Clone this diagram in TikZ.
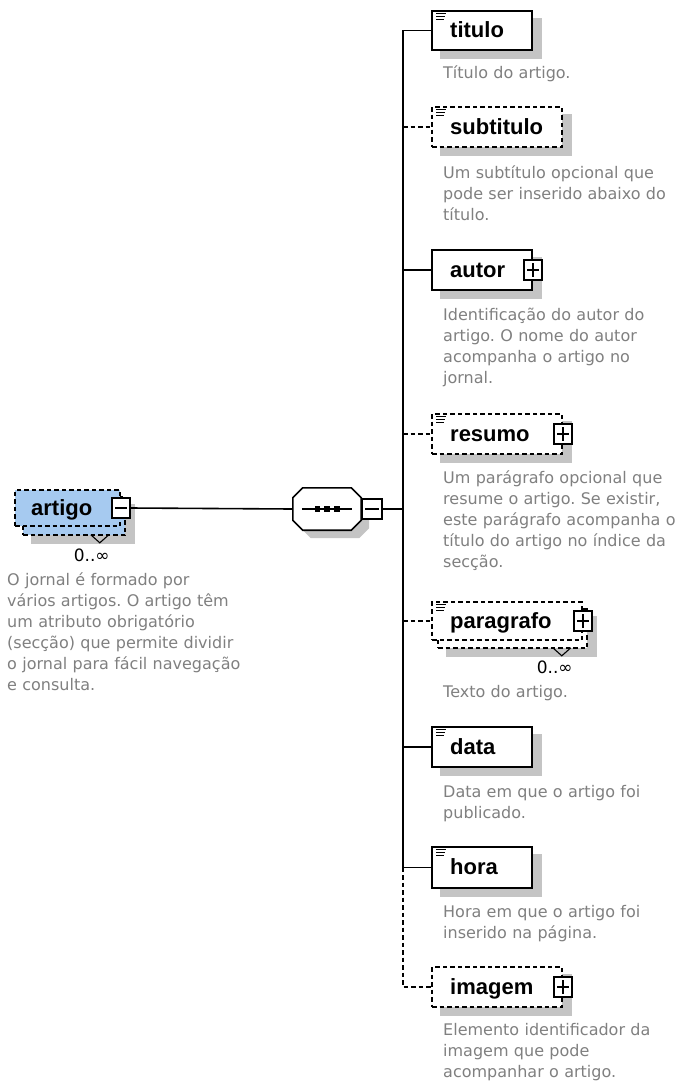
\documentclass[tikz,border=0pt]{standalone}
\usepackage{fontspec}
\usetikzlibrary{calc}
\newfontfamily\descfont{DejaVu Sans}
\newfontfamily\namefont{Liberation Sans}
\definecolor{descgray}{RGB}{128,128,128}
\definecolor{shadowgray}{RGB}{196,196,196}
\definecolor{artblue}{RGB}{166,202,240}
\pgfdeclarelayer{bg}
\pgfsetlayers{bg,main}
\frenchspacing
\tikzset{
  box/.style={draw=black, line width=1.6pt, fill=white, rectangle, inner sep=0pt},
  optbox/.style={box, dash pattern=on 4.5pt off 3pt},
  namelabel/.style={anchor=base west, inner sep=0pt, font={\namefont\bfseries\fontsize{22}{26}\selectfont}},
  desc/.style={anchor=base west, inner sep=0pt, text width=250pt, align=left, text=descgray, font={\descfont\frenchspacing\fontsize{16}{21}\selectfont}},
  mult/.style={anchor=base east, inner sep=0pt, font={\descfont\fontsize{17}{20}\selectfont}},
  conn/.style={draw=black, line width=1.6pt},
  optconn/.style={conn, dash pattern=on 4.5pt off 3pt},
  pm/.style={draw=black, line width=1.5pt, fill=white, rectangle, inner sep=0pt, minimum width=18pt, minimum height=20pt},
  sq/.style={fill=black, rectangle, inner sep=0pt, minimum size=5.5pt},
}
\newcommand\pmMinus[1]{\draw[line width=1.5pt] ($(#1.west)+(4,0)$) -- ($(#1.east)+(-4,0)$);}
\newcommand\pmPlus[1]{\pmMinus{#1}\draw[line width=1.5pt] ($(#1.north)+(0,4)$) -- ($(#1.south)+(0,-4)$);}
\newcommand\docicon[1]{\draw[line width=1.1pt] ($(#1.north west)+(5,3.5)$) -- ++(10,0) ($(#1.north west)+(5,6.5)$) -- ++(9,0) ($(#1.north west)+(5,9.5)$) -- ++(8,0);}
\newcommand\chev[1]{\draw[line width=1.1pt] ($(#1.south east)+(-35,-1)$) -- ++(9,8) -- ++(9,-8);}
\newcommand\octpath[2]{($(seq.north west)+(10+#1,#2)$) -- ($(seq.north east)+(-10+#1,#2)$) -- ($(seq.north east)+(#1,10+#2)$) -- ($(seq.south east)+(#1,-10+#2)$) -- ($(seq.south east)+(-10+#1,#2)$) -- ($(seq.south west)+(10+#1,#2)$) -- ($(seq.south west)+(#1,-10+#2)$) -- ($(seq.north west)+(#1,10+#2)$) -- cycle}
\begin{document}
\begin{tikzpicture}[x=1pt,y=-1pt]
\begin{pgfonlayer}{bg}
\fill[white] (0,0) rectangle (676,1082);
\end{pgfonlayer}
\useasboundingbox (0,0) rectangle (676,1082);
\coordinate (trunk) at (403,0);

% root element artigo (multiple, optional)
\node[optbox, fill=artblue, minimum width=102, minimum height=38] (artB) at (74,516) {};
\node[optbox, fill=artblue, minimum width=105, minimum height=36] (artF) at (67.5,508) {};
\node[namelabel] (artName) at (31,515) {artigo};
\node[pm] (artPM) at (artF.east) {};
\pmMinus{artPM}
\chev{artB}
\node[mult] (artMult) at ($(artB.south east)+(-16,26)$) {0..∞};
\node[desc, text width=270pt] (artDesc) at (7,585.5) {O jornal é formado por\\vários artigos. O artigo têm\\um atributo obrigatório\\(secção) que permite dividir\\o jornal para fácil navegação\\e consulta.};

% sequence compositor
\node[rectangle, inner sep=0pt, minimum width=68, minimum height=42] (seq) at (327,509) {};
\draw[conn, fill=white] \octpath{0}{0};
\draw[conn] ($(seq.west)+(9,0)$) -- ($(seq.east)+(-9,0)$);
\node[sq] (sq1) at ($(seq.center)+(-9.5,0)$) {};
\node[sq] (sq2) at (seq.center) {};
\node[sq] (sq3) at ($(seq.center)+(10,0)$) {};
\node[pm, minimum width=20, anchor=west] (seqPM) at (seq.east) {};
\pmMinus{seqPM}

% children
\node[box, minimum width=100, minimum height=39] (titulo) at (482,30.5) {};
\docicon{titulo}
\node[namelabel] (tituloName) at (450,37.5) {titulo};
\node[desc] (tituloDesc) at (443,78.5) {Título do artigo.};

\node[optbox, minimum width=130, minimum height=40] (subtitulo) at (497,127) {};
\docicon{subtitulo}
\node[namelabel] (subtituloName) at (450,134) {subtitulo};
\node[desc] (subtituloDesc) at (443,178.5) {Um subtítulo opcional que\\pode ser inserido abaixo do\\título.};

\node[box, minimum width=100, minimum height=40] (autor) at (482,270) {};
\node[namelabel] (autorName) at (450,277) {autor};
\node[pm] (autorPM) at (autor.east) {};
\pmPlus{autorPM}
\node[desc] (autorDesc) at (443,320.5) {Identificação do autor do\\artigo. O nome do autor\\acompanha o artigo no\\jornal.};

\node[optbox, minimum width=130, minimum height=40] (resumo) at (497,434) {};
\docicon{resumo}
\node[namelabel] (resumoName) at (450,441) {resumo};
\node[pm] (resumoPM) at (resumo.east) {};
\pmPlus{resumoPM}
\node[desc] (resumoDesc) at (443,483.5) {Um parágrafo opcional que\\resume o artigo. Se existir,\\este parágrafo acompanha o\\título do artigo no índice da\\secção.};

\node[optbox, minimum width=149, minimum height=39] (parB) at (512.5,628.5) {};
\node[optbox, minimum width=150, minimum height=38] (parF) at (507,621) {};
\docicon{parF}
\node[namelabel] (parName) at (450,628) {paragrafo};
\node[pm] (parPM) at (parF.east) {};
\pmPlus{parPM}
\chev{parB}
\node[mult] (parMult) at ($(parB.south east)+(-15,25)$) {0..∞};
\node[desc] (parDesc) at (443,697.5) {Texto do artigo.};

\node[box, minimum width=100, minimum height=40] (data) at (482,747) {};
\docicon{data}
\node[namelabel] (dataName) at (450,754) {data};
\node[desc] (dataDesc) at (443,797.5) {Data em que o artigo foi\\publicado.};

\node[box, minimum width=100, minimum height=41] (hora) at (482,867.5) {};
\docicon{hora}
\node[namelabel] (horaName) at (450,874.5) {hora};
\node[desc] (horaDesc) at (443,917.5) {Hora em que o artigo foi\\inserido na página.};

\node[optbox, minimum width=130, minimum height=40] (imagem) at (497,987) {};
\node[namelabel] (imagemName) at (450,994) {imagem};
\node[pm] (imagemPM) at (imagem.east) {};
\pmPlus{imagemPM}
\node[desc] (imagemDesc) at (443,1035.5) {Elemento identificador da\\imagem que pode\\acompanhar o artigo.};

% connectors
\draw[conn] (artPM.east) -- (seq.west);
\draw[conn] (seqPM.east) -- (seqPM.east -| trunk);
\draw[conn] (titulo.west) -- (titulo.west -| trunk) -- (hora.west -| trunk) -- (hora.west);
\draw[optconn] (hora.west -| trunk) -- (imagem.west -| trunk) -- (imagem.west);
\draw[conn] (autor.west -| trunk) -- (autor.west);
\draw[conn] (data.west -| trunk) -- (data.west);
\draw[optconn] (subtitulo.west -| trunk) -- (subtitulo.west);
\draw[optconn] (resumo.west -| trunk) -- (resumo.west);
\draw[optconn] (parF.west -| trunk) -- (parF.west);

% shadows
\begin{pgfonlayer}{bg}
\foreach \n in {titulo,subtitulo,autor,resumo,parB,data,hora,imagem,artB}
  \fill[shadowgray] ($(\n.north west)+(9,8)$) rectangle ($(\n.south east)+(9,8)$);
\fill[shadowgray] ($(artF.north west)+(9,8)$) rectangle ($(artF.south east)+(9,8)$);
\fill[shadowgray] \octpath{8}{8};
\end{pgfonlayer}
\end{tikzpicture}
\end{document}
